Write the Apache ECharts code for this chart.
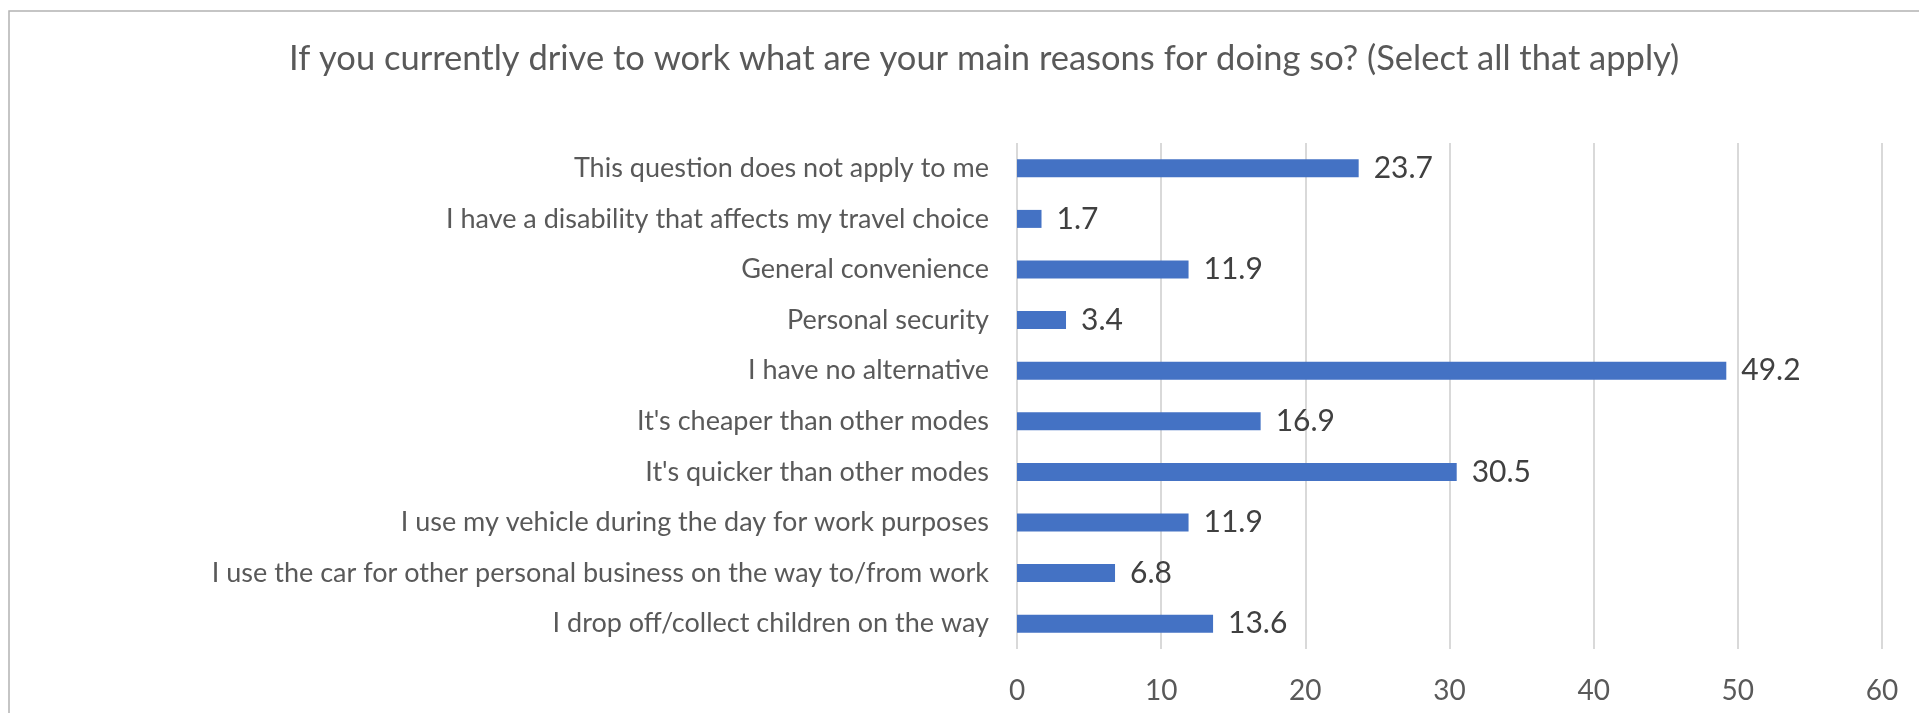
<!DOCTYPE html>
<html>
<head>
<meta charset="utf-8">
<script src="https://cdn.jsdelivr.net/npm/echarts@6/dist/echarts.min.js"></script>
<style>
  html, body { margin: 0; padding: 0; background: #ffffff; }
  #chart { width: 1919px; height: 713px; }
</style>
</head>
<body>
<div id="chart"></div>
<script>
// Survey answers, listed top to bottom
const categories = [
  "This question does not apply to me",
  "I have a disability that affects my travel choice",
  "General convenience",
  "Personal security",
  "I have no alternative",
  "It's cheaper than other modes",
  "It's quicker than other modes",
  "I use my vehicle during the day for work purposes",
  "I use the car for other personal business on the way to/from work",
  "I drop off/collect children on the way"
];
// Percentage of respondents choosing each reason
const values = [23.7, 1.7, 11.9, 3.4, 49.2, 16.9, 30.5, 11.9, 6.8, 13.6];

const titleText = "If you currently drive to work what are your main reasons for doing so? (Select all that apply)";
const FONT = "Lato, 'Open Sans', sans-serif";

const chart = echarts.init(document.getElementById('chart'), null, { renderer: 'canvas' });
chart.setOption({
  backgroundColor: '#ffffff',
  animation: false,
  title: {
    text: titleText,
    left: 284,
    top: 36,
    textStyle: { fontFamily: FONT, fontSize: 34.5, fontWeight: 'normal', color: '#595959' }
  },
  graphic: [{
    type: 'rect',
    shape: { x: 9, y: 11, width: 1930, height: 800 },
    style: { fill: 'none', stroke: '#b3b3b3', lineWidth: 1.5 },
    silent: true
  }],
  grid: { left: 1017, right: 37, top: 143, height: 506, containLabel: false },
  xAxis: {
    type: 'value',
    min: 0, max: 60, interval: 10,
    axisLine: { show: false },
    axisTick: { show: false },
    axisLabel: { margin: 28, fontFamily: FONT, fontSize: 28, color: '#595959' },
    splitLine: { show: true, lineStyle: { color: '#d9d9d9', width: 2 } }
  },
  yAxis: {
    type: 'category',
    inverse: true,
    data: categories,
    axisLine: { show: false },
    axisTick: { show: false },
    axisLabel: { margin: 28, fontFamily: FONT, fontSize: 27, color: '#595959' }
  },
  series: [{
    type: 'bar',
    data: values,
    barWidth: 18,
    itemStyle: { color: '#4472c4' },
    label: {
      show: true,
      position: 'right',
      distance: 15,
      fontFamily: FONT,
      fontSize: 30,
      color: '#404040'
    }
  }]
});
</script>
</body>
</html>
